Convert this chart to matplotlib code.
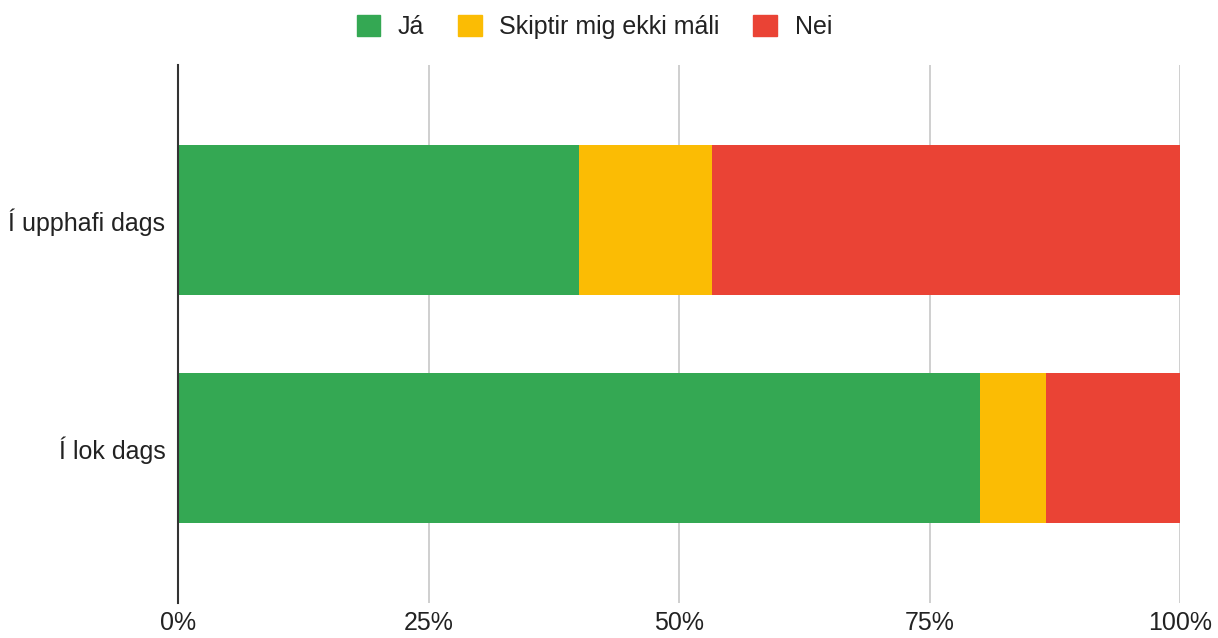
import matplotlib.pyplot as plt
from matplotlib.patches import Patch
from matplotlib.ticker import PercentFormatter
import numpy as np

plt.rcParams['font.family'] = ['Liberation Sans', 'DejaVu Sans']

# Data (share of answers, in percent)
categories = ["Í upphafi dags", "Í lok dags"]
series_names = ["Já", "Skiptir mig ekki máli", "Nei"]
ja = [40.0, 80.0]
skiptir = [13.33, 6.67]
nei = [46.67, 13.33]
colors = ["#34A853", "#FBBC04", "#EA4335"]

fig = plt.figure(figsize=(12.18, 6.38), dpi=100)
ax = fig.add_axes([178 / 1218, 35 / 638, 1002 / 1218, 538 / 638])

y = np.arange(len(categories))
left = np.zeros(len(categories))
for values, color in zip([ja, skiptir, nei], colors):
    ax.barh(y, values, left=left, height=0.654, color=color, zorder=3)
    left += np.array(values)

ax.set_xlim(0, 100)
ax.set_ylim(1.68, -0.68)
ax.set_yticks(y)
ax.set_yticklabels(categories)
ax.set_xticks([0, 25, 50, 75, 100])
ax.xaxis.set_major_formatter(PercentFormatter(decimals=0))
ax.tick_params(axis="both", length=0, labelsize=18, colors="#222222")
ax.tick_params(axis="y", pad=9)
ax.tick_params(axis="x", pad=6)

ax.grid(axis="x", color="#cccccc", linewidth=1.3, zorder=0)
for side in ["top", "right", "bottom"]:
    ax.spines[side].set_visible(False)
ax.spines["left"].set_color("#333333")
ax.spines["left"].set_linewidth(1.5)
ax.spines["left"].set_zorder(4)

handles = [Patch(facecolor=c, edgecolor=c) for c in colors]
fig.legend(handles, series_names, loc="center", bbox_to_anchor=(0.488, 1 - 27 / 638),
           ncol=3, frameon=False, fontsize=18, handlelength=0.95, handleheight=0.95,
           handletextpad=0.7, columnspacing=1.35, labelcolor="#222222")

fig.savefig("out.png", dpi=100)
